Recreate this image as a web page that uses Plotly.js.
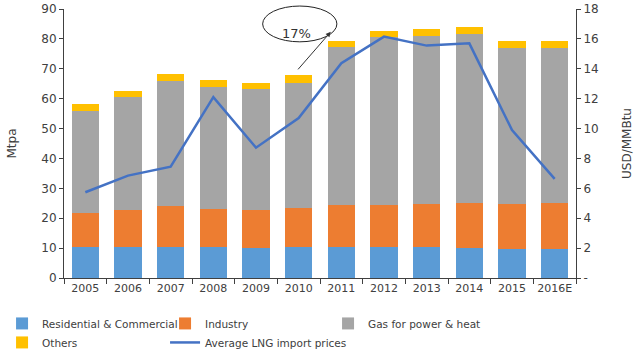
<!DOCTYPE html>
<html>
<head>
<meta charset="utf-8">
<script src="https://cdn.plot.ly/plotly-3.0.1.min.js"></script>
<style>html,body{margin:0;padding:0;background:#fff;}#chart{width:640px;height:356px;}</style>
</head>
<body>
<div id="chart"></div>
<script>
const years = ['2005','2006','2007','2008','2009','2010','2011','2012','2013','2014','2015','2016E'];
const residential = [10.5, 10.5, 10.5, 10.3, 10.1, 10.4, 10.3, 10.4, 10.3, 10.1, 9.7, 9.6];
const industry = [11.3, 12.2, 13.7, 12.9, 12.6, 13.0, 14.1, 14.1, 14.4, 14.9, 15.2, 15.4];
const gasPower = [34.2, 37.7, 41.8, 40.8, 40.4, 41.9, 52.9, 56.1, 56.3, 56.8, 52.1, 52.0];
const others = [2.1, 2.2, 2.1, 2.2, 2.2, 2.5, 2.1, 2.0, 2.2, 2.2, 2.3, 2.3];
const lngPrice = [5.74, 6.85, 7.45, 12.1, 8.72, 10.7, 14.37, 16.15, 15.55, 15.7, 9.9, 6.63];
const rightTickVals = [0,2,4,6,8,10,12,14,16,18];
const rightTickText = ['-','2','4','6','8','10','12','14','16','18'];

const FF = 'DejaVu Sans, Verdana, sans-serif';
const font = {family: FF, size: 11, color: '#404040'};
const axisCol = '#404040';

const traces = [
  {type:'bar', name:'Residential & Commercial', x: years, y: residential, marker:{color:'#5B9BD5'}},
  {type:'bar', name:'Industry', x: years, y: industry, marker:{color:'#ED7D31'}},
  {type:'bar', name:'Gas for power & heat', x: years, y: gasPower, marker:{color:'#A5A5A5'}},
  {type:'bar', name:'Others', x: years, y: others, marker:{color:'#FFC000'}},
  {type:'scatter', mode:'lines', name:'Average LNG import prices', x: years, y: lngPrice, yaxis:'y2',
   line:{color:'#4472C4', width:2.5}}
];

const layout = {
  width: 640, height: 356,
  margin: {l: 64, r: 64, t: 9, b: 78, autoexpand: false},
  paper_bgcolor: '#fff', plot_bgcolor: '#fff',
  font: font,
  barmode: 'stack', bargap: 0.36,
  showlegend: true,
  legend: {orientation:'h', x: -0.121, xanchor:'left', y: -0.115, yanchor:'top',
           entrywidth: 118, font:{family:FF, size:10.5, color:'#404040'},
           traceorder:'normal'},
  xaxis: {type:'category', showline:true, linecolor:axisCol, linewidth:1, ticks:'outside', tickson:'boundaries',
          ticklen:5, tickcolor:axisCol, showgrid:false, tickangle:0, tickfont:{size:11, color:'#404040'}},
  yaxis: {range:[0,90], dtick:10, showline:true, linecolor:axisCol, linewidth:1, ticks:'outside', ticklen:4,
          tickcolor:axisCol, showgrid:false, zeroline:false,
          title:{text:'Mtpa', standoff: 22, font:{size:12, color:'#404040'}}, tickfont:{size:12}},
  yaxis2: {range:[0,18], overlaying:'y', side:'right', tickvals: rightTickVals, ticktext: rightTickText,
           showline:true, linecolor:axisCol, linewidth:1, ticks:'outside', ticklen:4, tickcolor:axisCol,
           showgrid:false, zeroline:false, title:{text:'USD/MMBtu', standoff: 24, font:{size:12, color:'#404040'}},
           tickfont:{size:12}},
  shapes: [
    {type:'circle', xref:'paper', yref:'paper', x0:0.388, x1:0.533, y0:0.878, y1:1.011,
     line:{color:'#222', width:1}, fillcolor:'rgba(0,0,0,0)'}
  ],
  annotations: [
    {xref:'paper', yref:'paper', x:0.455, y:0.944, text:'17%', showarrow:false,
     font:{size:13, color:'#333'}},
    {xref:'paper', yref:'paper', x:0.521, y:0.915, text:'', showarrow:true, ax:-34, ay:39,
     arrowhead:2, arrowsize:1, arrowwidth:1, arrowcolor:'#333'}
  ]
};

Plotly.newPlot('chart', traces, layout, {displayModeBar:false, staticPlot:true});
</script>
</body>
</html>
